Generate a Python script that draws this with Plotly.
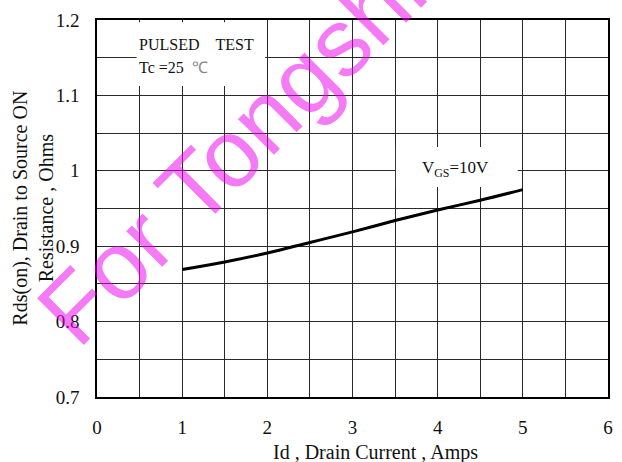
import plotly.graph_objects as go

# Data
id_amps = [1, 1.5, 2, 2.5, 3, 3.5, 4, 4.5, 5]
rds_on = [0.869, 0.879, 0.891, 0.905, 0.919, 0.934, 0.948, 0.961, 0.975]

x_tickvals = [0, 1, 2, 3, 4, 5, 6]
y_tickvals = [0.7, 0.8, 0.9, 1.0, 1.1, 1.2]
y_ticktext = ["0.7", "0.8", "0.9", "1", "1.1", "1.2"]

SERIF = "Liberation Serif, Times New Roman, serif"
GRID = "#2a2a2a"

fig = go.Figure()
fig.add_trace(go.Scatter(
    x=id_amps, y=rds_on, mode="lines",
    line=dict(color="black", width=3, shape="spline"),
    showlegend=False, hoverinfo="skip",
))

fig.update_layout(
    width=622, height=462,
    margin=dict(l=97, r=9, t=20, b=65),
    paper_bgcolor="white", plot_bgcolor="white",
    font=dict(family=SERIF, color="#111", size=19),
    showlegend=False,
)

fig.update_xaxes(
    range=[0, 6], tickvals=x_tickvals,
    showgrid=True, gridcolor=GRID, gridwidth=1.3,
    minor=dict(dtick=0.5, showgrid=True, gridcolor=GRID, gridwidth=1.3),
    zeroline=False, showline=True, mirror=True, linecolor="black", linewidth=1.5,
    ticks="outside", ticklen=12, tickcolor="rgba(0,0,0,0)",
    tickfont=dict(family=SERIF, size=19, color="#111"),
)
fig.update_yaxes(
    range=[0.7, 1.2], tickvals=y_tickvals, ticktext=y_ticktext,
    showgrid=True, gridcolor=GRID, gridwidth=1.3,
    minor=dict(dtick=0.05, showgrid=True, gridcolor=GRID, gridwidth=1.3),
    zeroline=False, showline=True, mirror=True, linecolor="black", linewidth=1.5,
    ticks="outside", ticklen=12, tickcolor="rgba(0,0,0,0)",
    tickfont=dict(family=SERIF, size=19, color="#111"),
)

# white label backgrounds that break the grid
fig.add_shape(type="rect", xref="x", yref="y", x0=0.465, x1=1.975, y0=1.1125, y1=1.197,
              fillcolor="white", line=dict(width=0), layer="between")
fig.add_shape(type="rect", xref="x", yref="y", x0=3.51, x1=4.94, y0=0.9785, y1=1.0316,
              fillcolor="white", line=dict(width=0), layer="between")

# in-plot labels
fig.add_annotation(x=0.475, y=1.168, xref="x", yref="y", xanchor="left", yanchor="middle",
                   text="PULSED\u00a0\u00a0\u00a0\u00a0TEST", showarrow=False,
                   font=dict(family=SERIF, size=16, color="#111"))
fig.add_annotation(x=0.475, y=1.137, xref="x", yref="y", xanchor="left", yanchor="middle",
                   text="Tc =25\u00a0\u00a0<span style='color:#8a8a8a'>℃</span>", showarrow=False,
                   font=dict(family=SERIF, size=16, color="#111"))
fig.add_annotation(x=3.79, y=1.002, xref="x", yref="y", xanchor="left", yanchor="middle",
                   text="V<sub>GS</sub>=10V", showarrow=False,
                   font=dict(family=SERIF, size=17, color="#111"))

# axis titles
fig.add_annotation(x=(378 - 97) / 516, y=-(452 - 397) / 377, xref="paper", yref="paper",
                   xanchor="center", yanchor="middle", showarrow=False,
                   text="Id , Drain Current , Amps",
                   font=dict(family=SERIF, size=20, color="#111"))
fig.add_annotation(x=(32 - 97) / 516, y=(397 - 208) / 377, xref="paper", yref="paper",
                   xanchor="center", yanchor="middle", showarrow=False, textangle=-90,
                   text="Rds(on), Drain to Source ON<br>Resistance , Ohms",
                   font=dict(family=SERIF, size=20, color="#111"))

# watermark
fig.add_annotation(x=(232 - 97) / 516, y=(397 - 150) / 377, xref="paper", yref="paper",
                   xanchor="center", yanchor="middle", showarrow=False, textangle=-45,
                   text="For Tongshi",
                   font=dict(family="Liberation Sans, Arial, sans-serif", size=96,
                             color="rgba(236,0,236,0.52)"))

fig.write_html("out.html")
